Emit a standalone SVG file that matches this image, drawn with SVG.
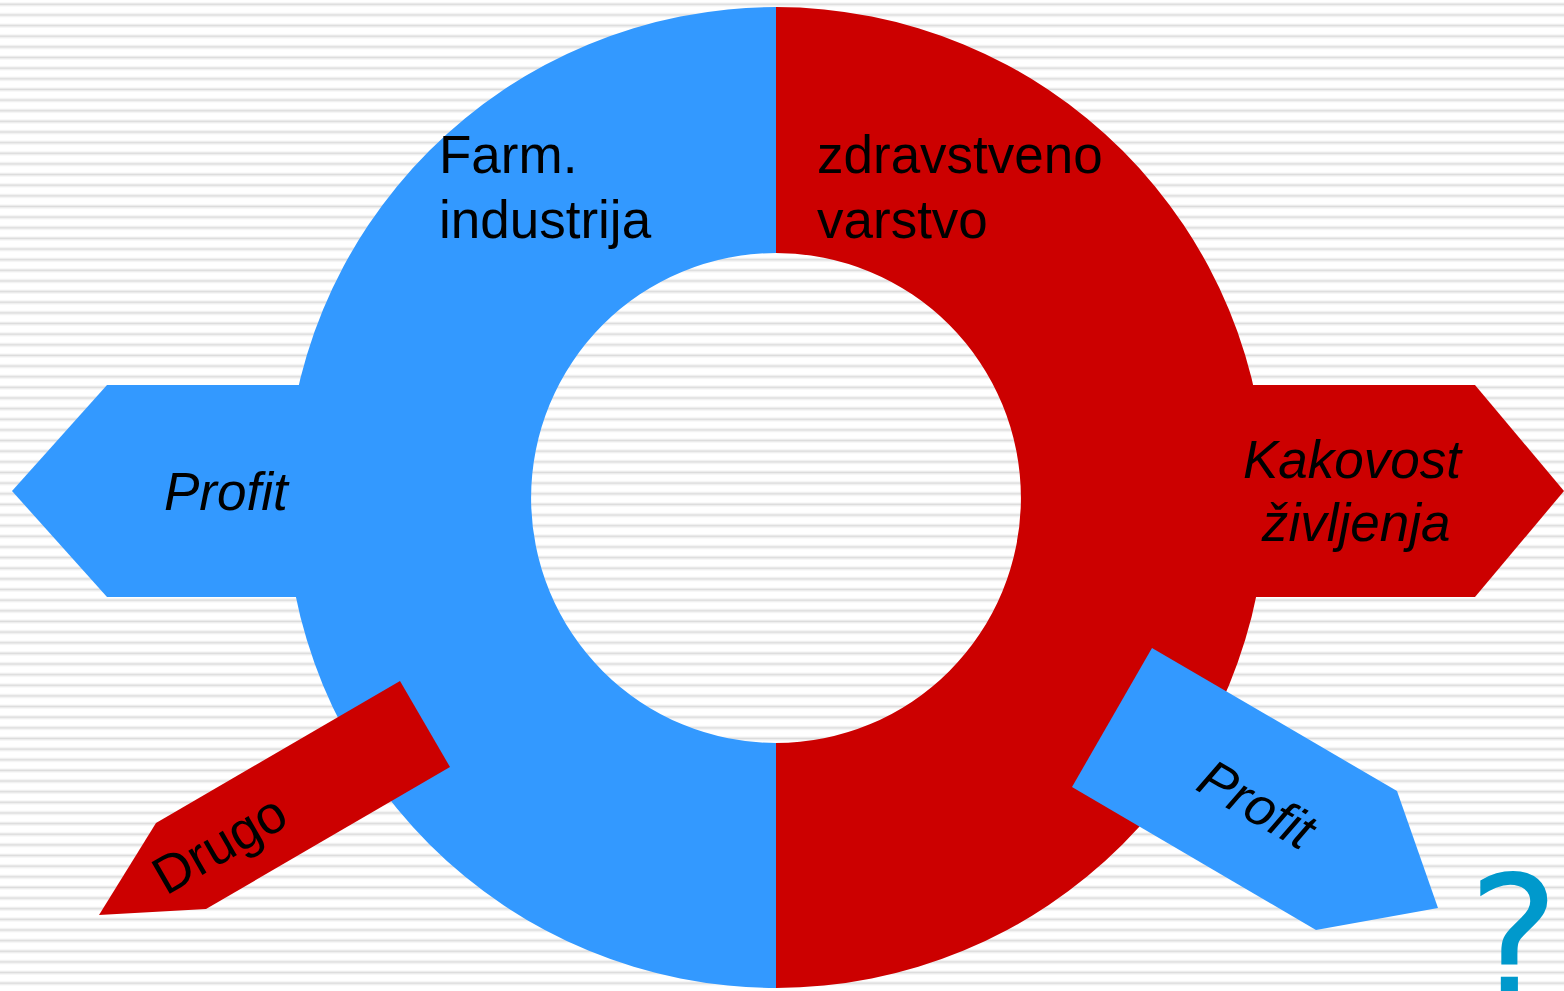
<svg xmlns="http://www.w3.org/2000/svg" width="1564" height="991" viewBox="0 0 1564 991">
<defs>
<pattern id="stripes" x="0" y="0" width="20" height="10.64" patternUnits="userSpaceOnUse">
<rect x="0" y="0" width="20" height="10.64" fill="#ffffff"/>
<rect x="0" y="2.6" width="20" height="1" fill="#ececec"/>
<rect x="0" y="3.6" width="20" height="1.6" fill="#dcdcdc"/>
<rect x="0" y="5.2" width="20" height="1" fill="#ececec"/>
</pattern>
<style>
.blue{fill:#3399FF}
.red{fill:#CC0000}
.lbl{font-family:"Liberation Sans",Arial,sans-serif;font-size:53px;fill:#000}
.it{font-style:italic}
</style>
</defs>
<rect x="0" y="0" width="1564" height="991" fill="url(#stripes)"/>
<g id="ring-left">
<path class="blue" d="M776,7 A490,490 0 0 0 776,988 L776,743 A245,245 0 0 1 776,253 Z"/>
</g>
<g id="ring-right">
<path class="red" d="M776,7 A490,490 0 0 1 776,988 L776,743 A245,245 0 0 0 776,253 Z"/>
</g>
<g id="arrow-profit-left">
<polygon class="blue" points="300,385 107,385 12,491 107,597 300,597"/>
<text class="lbl it" x="164" y="510">Profit</text>
</g>
<g id="arrow-kakovost">
<polygon class="red" points="1250,385 1475,385 1564,491 1475,597 1250,597"/>
<text class="lbl it" x="1243" y="478">Kakovost</text>
<text class="lbl it" x="1262" y="541">življenja</text>
</g>
<g id="arrow-drugo">
<polygon class="red" points="400,681 450,767 206,909 99,915 156,823"/>
<text class="lbl" transform="translate(166,896) rotate(-30)">Drugo</text>
</g>
<g id="arrow-profit-right">
<polygon class="blue" points="1152,648 1397,791 1438,908 1316,930 1072,787"/>
<text class="lbl it" transform="translate(1194,789) rotate(30)">Profit</text>
</g>
<g id="label-farm">
<text class="lbl" x="439" y="173">Farm.</text>
<text class="lbl" x="439" y="238">industrija</text>
</g>
<g id="label-zdrav">
<text class="lbl" x="817" y="173">zdravstveno</text>
<text class="lbl" x="817" y="238">varstvo</text>
</g>
<g id="question">
<text x="1468" y="998" font-family="DejaVu Sans, sans-serif" font-size="172" fill="#0099CC">?</text>
</g>
</svg>
